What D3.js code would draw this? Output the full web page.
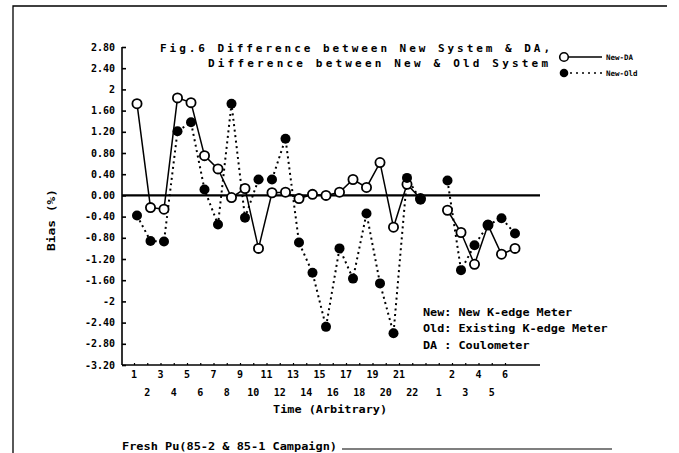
<!DOCTYPE html>
<html>
<head>
<meta charset="utf-8">
<script src="https://cdn.jsdelivr.net/npm/d3@7"></script>
<style>
  html, body { margin: 0; padding: 0; background: #fff; }
  svg { display: block; }
  text { font-family: "DejaVu Sans Mono", "Liberation Mono", monospace; font-weight: bold; fill: #000; }
</style>
</head>
<body>
<div id="chart"></div>
<script>
// ---- data ----
const group1Slots = d3.range(1, 23);          // run 1..22
const group2Slots = d3.range(24, 30);         // runs 1..6 of the second campaign
const newDA_g1 = [1.73, -0.23, -0.26, 1.84, 1.75, 0.75, 0.50, -0.04, 0.13, -1.00, 0.05,
                  0.06, -0.06, 0.02, 0.00, 0.06, 0.30, 0.15, 0.62, -0.60, 0.21, -0.06];
const newDA_g2 = [-0.28, -0.70, -1.30, -0.56, -1.11, -1.00];
const newOld_g1 = [-0.38, -0.86, -0.87, 1.21, 1.38, 0.11, -0.55, 1.73, -0.42, 0.30, 0.30,
                   1.07, -0.89, -1.46, -2.48, -1.00, -1.57, -0.34, -1.66, -2.60, 0.33, -0.08];
const newOld_g2 = [0.28, -1.41, -0.94, -0.56, -0.43, -0.72];

const yTickValues = [2.8, 2.4, 2.0, 1.6, 1.2, 0.8, 0.4, 0.0, -0.4, -0.8, -1.2, -1.6, -2.0, -2.4, -2.8, -3.2];
const yTickLabels = ["2.80","2.40","2","1.60","1.20","0.80","0.40","0.00","-0.40","-0.80","-1.20","-1.60","-2","-2.40","-2.80","-3.20"];
const xLabelsRow1 = [[1,"1"],[3,"3"],[5,"5"],[7,"7"],[9,"9"],[11,"11"],[13,"13"],[15,"15"],[17,"17"],[19,"19"],[21,"21"],[25,"2"],[27,"4"],[29,"6"]];
const xLabelsRow2 = [[2,"2"],[4,"4"],[6,"6"],[8,"8"],[10,"10"],[12,"12"],[14,"14"],[16,"16"],[18,"18"],[20,"20"],[22,"22"],[24,"1"],[26,"3"],[28,"5"]];
const titleLines = ["Fig.6 Difference between New System & DA,", "Difference between New & Old System"];
const legendLabels = ["New-DA", "New-Old"];
const noteLines = ["New: New K-edge Meter", "Old: Existing K-edge Meter", "DA : Coulometer"];
const xTitle = "Time (Arbitrary)";
const yTitle = "Bias (%)";
const footnote = "Fresh Pu(85-2 & 85-1 Campaign)";

// ---- layout ----
const W = 679, H = 453;
const svg = d3.select("#chart").append("svg").attr("width", W).attr("height", H);

const x = d3.scaleLinear().domain([1, 29]).range([137, 515]);
const xLab = d3.scaleLinear().domain([1, 29]).range([134, 505]);
const y = d3.scaleLinear().domain([-3.2, 2.8]).range([365, 47]);
const axisLeft = 122, axisRight = 540;

// frame
svg.append("path").attr("d", `M13,${H} L13,6 L${W - 12},6`)
  .attr("fill", "none").attr("stroke", "#000").attr("stroke-width", 1.3);
svg.append("line").attr("x1", 342).attr("x2", 612).attr("y1", 449).attr("y2", 449)
  .attr("stroke", "#000").attr("stroke-width", 1.2);

// y axis
const yAxis = d3.axisRight(y).tickValues(yTickValues).tickSize(4).tickFormat("");
const gy = svg.append("g").attr("transform", `translate(${axisLeft},0)`).call(yAxis);
gy.select(".domain").attr("stroke-width", 1.6).attr("d", `M0,${y(2.8)}V${y(-3.2)}`);
gy.selectAll(".tick line").attr("stroke-width", 1.6);
svg.append("g").selectAll("text").data(yTickValues).join("text")
  .attr("x", 115).attr("y", d => y(d)).attr("dy", "0.36em")
  .attr("text-anchor", "end").attr("font-size", 10)
  .text((d, i) => yTickLabels[i]);

// x axis
const xAxis = d3.axisTop(xLab).tickValues(d3.range(1, 30)).tickSize(2).tickFormat("");
const gx = svg.append("g").attr("transform", `translate(0,${y(-3.2)})`).call(xAxis);
gx.select(".domain").attr("d", `M${axisLeft},0H${axisRight}`).attr("stroke-width", 1.6);
gx.selectAll(".tick line").attr("stroke-width", 1.2);

svg.append("g").selectAll("text").data(xLabelsRow1).join("text")
  .attr("x", d => xLab(d[0])).attr("y", 378).attr("text-anchor", "middle").attr("font-size", 10)
  .text(d => d[1]);
svg.append("g").selectAll("text").data(xLabelsRow2).join("text")
  .attr("x", d => xLab(d[0])).attr("y", 396).attr("text-anchor", "middle").attr("font-size", 10)
  .text(d => d[1]);
svg.append("text").attr("x", 330).attr("y", 413).attr("text-anchor", "middle")
  .attr("font-size", 10).attr("textLength", 114).attr("lengthAdjust", "spacingAndGlyphs").text(xTitle);

// y title
svg.append("text").attr("transform", `translate(55,220) rotate(-90)`)
  .attr("text-anchor", "middle").attr("font-size", 10)
  .attr("textLength", 62).attr("lengthAdjust", "spacingAndGlyphs").text(yTitle);

// zero line
svg.append("line").attr("x1", axisLeft).attr("x2", axisRight).attr("y1", y(0)).attr("y2", y(0))
  .attr("stroke", "#000").attr("stroke-width", 2.2);

// series
const ptsDA = [group1Slots.map((s, i) => [s, newDA_g1[i]]), group2Slots.map((s, i) => [s, newDA_g2[i]])];
const ptsOld = [group1Slots.map((s, i) => [s, newOld_g1[i]]), group2Slots.map((s, i) => [s, newOld_g2[i]])];
const line = d3.line().x(d => x(d[0])).y(d => y(d[1]));

svg.append("g").selectAll("path").data(ptsOld).join("path")
  .attr("d", line).attr("fill", "none").attr("stroke", "#000")
  .attr("stroke-width", 2).attr("stroke-dasharray", "2,3.5");
svg.append("g").selectAll("path").data(ptsDA).join("path")
  .attr("d", line).attr("fill", "none").attr("stroke", "#000").attr("stroke-width", 1.5);

svg.append("g").selectAll("circle").data(ptsDA.flat()).join("circle")
  .attr("cx", d => x(d[0])).attr("cy", d => y(d[1])).attr("r", 4.6)
  .attr("fill", "#fff").attr("stroke", "#000").attr("stroke-width", 1.8);
svg.append("g").selectAll("circle").data(ptsOld.flat()).join("circle")
  .attr("cx", d => x(d[0])).attr("cy", d => y(d[1])).attr("r", 5)
  .attr("fill", "#000");

// title
svg.append("text").attr("x", 160).attr("y", 52).attr("font-size", 11)
  .attr("textLength", 390).attr("lengthAdjust", "spacing").text(titleLines[0]);
svg.append("text").attr("x", 208).attr("y", 67).attr("font-size", 11)
  .attr("textLength", 340).attr("lengthAdjust", "spacing").text(titleLines[1]);

// legend
const lg = svg.append("g");
lg.append("line").attr("x1", 568).attr("x2", 602).attr("y1", 57).attr("y2", 57)
  .attr("stroke", "#000").attr("stroke-width", 1.5);
lg.append("circle").attr("cx", 564).attr("cy", 57).attr("r", 4.3)
  .attr("fill", "#fff").attr("stroke", "#000").attr("stroke-width", 1.6);
lg.append("line").attr("x1", 570).attr("x2", 602).attr("y1", 73).attr("y2", 73)
  .attr("stroke", "#000").attr("stroke-width", 1.6).attr("stroke-dasharray", "2,4");
lg.append("circle").attr("cx", 564).attr("cy", 73).attr("r", 4.3).attr("fill", "#000");
lg.selectAll("text").data(legendLabels).join("text")
  .attr("x", 606).attr("y", (d, i) => 57 + i * 16).attr("dy", "0.35em")
  .attr("font-size", 7.5).attr("font-weight", "normal").attr("fill", "#333")
  .text(d => d);

// notes
svg.append("g").selectAll("text").data(noteLines).join("text")
  .attr("x", 423).attr("y", (d, i) => 312 + i * 16.5).attr("dy", "0.35em")
  .attr("font-size", 10).attr("textLength", (d) => d.length * 7.1).attr("lengthAdjust", "spacingAndGlyphs")
  .text(d => d);

// footnote
svg.append("text").attr("x", 122).attr("y", 446).attr("dy", "0.35em").attr("font-size", 10)
  .attr("textLength", 215).attr("lengthAdjust", "spacingAndGlyphs").text(footnote);
</script>
</body>
</html>
